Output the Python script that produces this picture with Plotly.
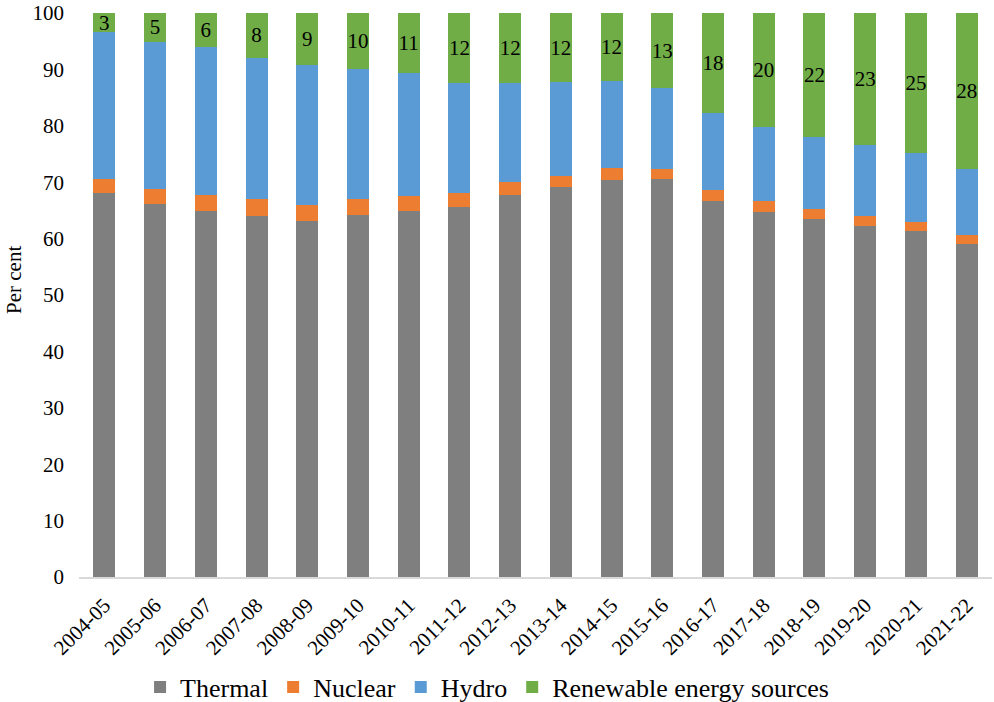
import plotly.graph_objects as go

# Share of electricity generation by source (per cent)
years = ["2004-05", "2005-06", "2006-07", "2007-08", "2008-09", "2009-10",
         "2010-11", "2011-12", "2012-13", "2013-14", "2014-15", "2015-16",
         "2016-17", "2017-18", "2018-19", "2019-20", "2020-21", "2021-22"]

thermal = [68.1, 66.2, 64.9, 64.0, 63.1, 64.1, 64.9, 65.6, 67.8,
           69.1, 70.4, 70.6, 66.6, 64.7, 63.5, 62.3, 61.3, 59.0]
nuclear = [2.4, 2.6, 2.9, 3.0, 2.8, 2.9, 2.7, 2.5, 2.2,
           2.0, 2.2, 1.8, 2.1, 1.9, 1.7, 1.7, 1.7, 1.6]
hydro = [26.1, 26.1, 26.1, 25.1, 24.9, 23.0, 21.7, 19.5, 17.6,
         16.6, 15.3, 14.3, 13.6, 13.2, 12.8, 12.6, 12.1, 11.7]
renewable = [3.4, 5.1, 6.1, 7.9, 9.2, 10.0, 10.7, 12.4, 12.4,
             12.3, 12.1, 13.3, 17.7, 20.2, 22.0, 23.4, 24.9, 27.7]

y_ticks = [0, 10, 20, 30, 40, 50, 60, 70, 80, 90, 100]

FONT = "Liberation Serif"

fig = go.Figure()
fig.add_bar(x=years, y=thermal, name="Thermal", marker_color="#7f7f7f")
fig.add_bar(x=years, y=nuclear, name="Nuclear", marker_color="#ed7d31")
fig.add_bar(x=years, y=hydro, name="Hydro", marker_color="#5b9bd5")
fig.add_bar(
    x=years, y=renewable, name="Renewable energy sources",
    marker_color="#70ad47",
    texttemplate="%{y:.0f}", textposition="inside",
    insidetextanchor="middle", textangle=0, constraintext="none",
    textfont=dict(family=FONT, size=21, color="#000000"),
)

fig.update_traces(marker_line_width=0)

fig.update_layout(
    barmode="stack",
    bargap=0.567,
    width=994, height=702,
    margin=dict(l=79, r=2, t=13, b=125, autoexpand=False),
    paper_bgcolor="white", plot_bgcolor="white",
    font=dict(family=FONT, color="#000000"),
    showlegend=True,
    legend=dict(
        orientation="h", x=0.49, xref="container", xanchor="center",
        y=-0.195, yanchor="middle",
        font=dict(family=FONT, size=26, color="#000000"),
        traceorder="normal", itemwidth=30,
    ),
    # y-axis title, set slightly above the plot's vertical centre
    annotations=[dict(
        text="Per cent", textangle=-90, showarrow=False,
        xref="paper", yref="paper", x=-0.071, y=0.527,
        xanchor="center", yanchor="middle",
        font=dict(family=FONT, size=21, color="#000000"),
    )],
)

fig.update_xaxes(
    type="category",
    showline=True, linecolor="#d9d9d9", linewidth=1.5,
    showgrid=False, ticks="", tickangle=-45,
    tickfont=dict(family=FONT, size=21, color="#000000"),
    ticklabelstandoff=6,
)
fig.update_yaxes(
    range=[0, 100], tickvals=y_ticks,
    showline=False, showgrid=False, zeroline=False, ticks="",
    tickfont=dict(family=FONT, size=21, color="#000000"),
    ticklabelstandoff=14,
)

fig.write_html("out.html")
